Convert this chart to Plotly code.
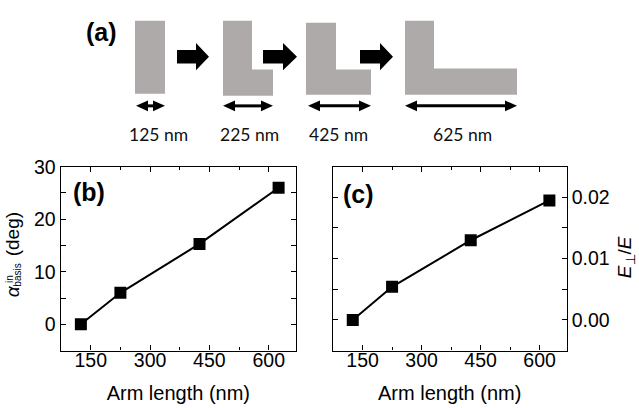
import plotly.graph_objects as go

# Arm length of the antenna and the two measured quantities
arm_length = [125, 225, 425, 625]            # nm
alpha_basis = [0.0, 6.0, 15.3, 26.0]         # deg
e_ratio = [0.0, 0.0054, 0.0130, 0.0195]      # E_perp / E
length_labels = [f"{v} nm" for v in arm_length]

W, H = 639, 408
TXT = "Liberation Sans"
GRAY = "#aeaaa9"


def fx(x):
    return x / W


def fy(y):
    return 1 - y / H


def path(points):
    return "M " + " L ".join(f"{fx(x):.5f},{fy(y):.5f}" for x, y in points) + " Z"


fig = go.Figure()

marker = dict(symbol="square", size=12, color="black")
fig.add_trace(go.Scatter(x=arm_length, y=alpha_basis, mode="lines+markers",
                         line=dict(color="black", width=2), marker=marker,
                         xaxis="x", yaxis="y", showlegend=False))
fig.add_trace(go.Scatter(x=arm_length, y=e_ratio, mode="lines+markers",
                         line=dict(color="black", width=2), marker=marker,
                         xaxis="x2", yaxis="y2", showlegend=False))
# invisible companions that carry the bottom tick-label axes
for xa, ya, yv in [("x3", "y", alpha_basis), ("x4", "y2", e_ratio)]:
    fig.add_trace(go.Scatter(x=arm_length, y=yv, mode="markers", marker=dict(opacity=0),
                             xaxis=xa, yaxis=ya, showlegend=False, hoverinfo="skip"))

tfont = dict(family=TXT, size=19.5, color="black")
frame = dict(showline=True, linecolor="black", linewidth=1.2, mirror="allticks",
             ticks="inside", ticklen=5, tickcolor="black", tickwidth=1,
             showgrid=False, zeroline=False, tickfont=tfont)

XR = [74, 669]
xframe = dict(frame, range=XR, tick0=0, dtick=150, showticklabels=False,
              minor=dict(ticks="inside", ticklen=3, dtick=75, tick0=0, tickcolor="black"))
xlabels = dict(range=XR, tick0=0, dtick=150, showline=False, ticks="", showgrid=False,
               zeroline=False, tickfont=tfont, anchor="free", position=fy(345),
               title=dict(text="Arm length (nm)", font=dict(family=TXT, size=20, color="black"),
                          standoff=15))

dom_b = [fx(60.7), fx(296)]
dom_c = [fx(332.7), fx(566.7)]
fig.update_layout(
    width=W, height=H, margin=dict(l=0, r=0, t=0, b=0),
    paper_bgcolor="white", plot_bgcolor="white",
    xaxis=dict(xframe, domain=dom_b, anchor="y"),
    yaxis=dict(frame, domain=[fy(349), fy(160)], anchor="x", range=[-5, 30],
               tick0=0, dtick=10,
               minor=dict(ticks="inside", ticklen=3, dtick=5, tick0=0, tickcolor="black")),
    xaxis2=dict(xframe, domain=dom_c, anchor="y2"),
    yaxis2=dict(frame, domain=[fy(349), fy(160)], anchor="x2", side="right",
                range=[-0.005, 0.025], tick0=0, dtick=0.01, tickformat=".2f",
                minor=dict(ticks="inside", ticklen=3, dtick=0.005, tick0=0, tickcolor="black")),
    xaxis3=dict(xlabels, domain=dom_b, overlaying="x"),
    xaxis4=dict(xlabels, domain=dom_c, overlaying="x2"),
)

# Schematic of the growing L-shaped antenna
shapes = []
blocks = [
    [(135, 10), (165, 10), (165, 85), (135, 85)],
    [(223, 10), (252, 10), (252, 60), (273, 60), (273, 87), (223, 87)],
    [(306, 12), (336, 12), (336, 60), (371, 60), (371, 86), (306, 86)],
    [(405, 10), (434, 10), (434, 59), (517, 59), (517, 86), (405, 86)],
]
for b in blocks:
    shapes.append(dict(type="path", xref="paper", yref="paper", path=path(b),
                       fillcolor=GRAY, line=dict(width=0), layer="above"))

# Block arrows between the steps
for x0, xh, xt in [(177, 196, 209), (263, 283, 297), (360, 380, 393)]:
    pts = [(x0, 40), (xh, 40), (xh, 33), (xt, 47), (xh, 61), (xh, 54), (x0, 54)]
    shapes.append(dict(type="path", xref="paper", yref="paper", path=path(pts),
                       fillcolor="black", line=dict(width=0), layer="above"))

# Double-headed dimension arrows
ya = 97.5
for xl, xr in [(136, 165), (223, 273), (308, 371), (405, 517)]:
    hl = min(12, (xr - xl) / 2 - 1)
    shapes.append(dict(type="line", xref="paper", yref="paper",
                       x0=fx(xl + hl - 1), x1=fx(xr - hl + 1), y0=fy(ya), y1=fy(ya),
                       line=dict(color="black", width=3)))
    shapes.append(dict(type="path", xref="paper", yref="paper",
                       path=path([(xl, ya), (xl + hl, ya - 5.5), (xl + hl, ya + 5.5)]),
                       fillcolor="black", line=dict(width=0)))
    shapes.append(dict(type="path", xref="paper", yref="paper",
                       path=path([(xr, ya), (xr - hl, ya - 5.5), (xr - hl, ya + 5.5)]),
                       fillcolor="black", line=dict(width=0)))
fig.update_layout(shapes=shapes)

ann = []
for lab, xc in zip(length_labels, [158, 249, 338, 462]):
    ann.append(dict(text=lab, x=fx(xc), y=fy(127), font=dict(family="Lato", size=17.5, color="#111111")))

# Panel labels
for lab, xc, yc in [("(a)", 101, 22), ("(b)", 88.5, 186.5), ("(c)", 358, 188)]:
    ann.append(dict(text=f"<b>{lab}</b>", x=fx(xc), y=fy(yc),
                    font=dict(family=TXT, size=25, color="black")))

# Y-axis title of (b): alpha with stacked super/subscript
ann.append(dict(text="<i>α</i>", x=fx(12), y=fy(288), textangle=-90,
                font=dict(family=TXT, size=19, color="black")))
ann.append(dict(text="in", x=fx(9.5), y=fy(276), textangle=-90,
                font=dict(family=TXT, size=10, color="black")))
ann.append(dict(text="basis", x=fx(17.5), y=fy(271.5), textangle=-90,
                font=dict(family=TXT, size=10, color="black")))
ann.append(dict(text="(deg)", x=fx(12), y=fy(229.5), textangle=-90,
                font=dict(family=TXT, size=19, color="black")))

# Y-axis title of (c)
ann.append(dict(text="<i>E</i><sub>⊥</sub>/<i>E</i>", x=fx(626), y=fy(253), textangle=-90,
                font=dict(family=TXT, size=19, color="black")))

for a in ann:
    a.update(xref="paper", yref="paper", showarrow=False, xanchor="center", yanchor="middle")
fig.update_layout(annotations=ann)

fig.write_html("out.html")
